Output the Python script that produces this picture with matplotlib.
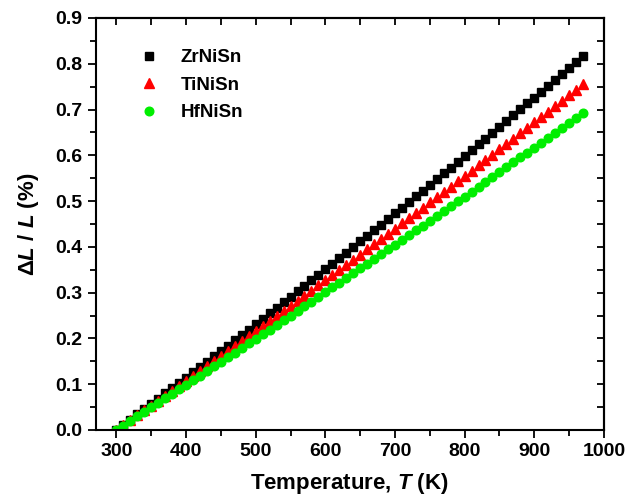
import numpy as np
import matplotlib.pyplot as plt

# --- Dados de dilatacao termica (Delta L / L, %) ---
temperature = np.arange(300, 980, 10)  # K

zrnisn = [
    0.0000, 0.0113, 0.0227, 0.0340, 0.0454, 0.0568, 0.0683, 0.0798, 0.0913, 0.1028,
    0.1143, 0.1259, 0.1375, 0.1492, 0.1608, 0.1725, 0.1842, 0.1960, 0.2077, 0.2195,
    0.2314, 0.2432, 0.2551, 0.2670, 0.2789, 0.2909, 0.3029, 0.3149, 0.3269, 0.3390,
    0.3511, 0.3632, 0.3753, 0.3875, 0.3997, 0.4119, 0.4242, 0.4364, 0.4488, 0.4611,
    0.4734, 0.4858, 0.4982, 0.5107, 0.5231, 0.5356, 0.5482, 0.5607, 0.5733, 0.5859,
    0.5985, 0.6112, 0.6238, 0.6365, 0.6493, 0.6620, 0.6748, 0.6876, 0.7005, 0.7134,
    0.7262, 0.7392, 0.7521, 0.7651, 0.7781, 0.7911, 0.8042, 0.8173,
]

tinisn = [
    0.0000, 0.0106, 0.0212, 0.0319, 0.0426, 0.0533, 0.0640, 0.0747, 0.0854, 0.0962,
    0.1070, 0.1178, 0.1286, 0.1395, 0.1504, 0.1613, 0.1722, 0.1831, 0.1940, 0.2050,
    0.2160, 0.2270, 0.2380, 0.2491, 0.2602, 0.2713, 0.2824, 0.2935, 0.3046, 0.3158,
    0.3270, 0.3382, 0.3494, 0.3607, 0.3720, 0.3833, 0.3946, 0.4059, 0.4172, 0.4286,
    0.4400, 0.4514, 0.4628, 0.4743, 0.4858, 0.4973, 0.5088, 0.5203, 0.5318, 0.5434,
    0.5550, 0.5666, 0.5782, 0.5899, 0.6016, 0.6133, 0.6250, 0.6367, 0.6484, 0.6602,
    0.6720, 0.6838, 0.6956, 0.7075, 0.7194, 0.7313, 0.7432, 0.7551,
]

hfnisn = [
    0.0000, 0.0098, 0.0196, 0.0295, 0.0393, 0.0492, 0.0591, 0.0690, 0.0789, 0.0888,
    0.0988, 0.1088, 0.1188, 0.1288, 0.1388, 0.1488, 0.1588, 0.1689, 0.1790, 0.1891,
    0.1992, 0.2093, 0.2195, 0.2296, 0.2398, 0.2500, 0.2602, 0.2704, 0.2807, 0.2909,
    0.3012, 0.3115, 0.3218, 0.3321, 0.3424, 0.3528, 0.3632, 0.3736, 0.3840, 0.3944,
    0.4048, 0.4152, 0.4257, 0.4362, 0.4467, 0.4572, 0.4677, 0.4783, 0.4888, 0.4994,
    0.5100, 0.5206, 0.5312, 0.5419, 0.5525, 0.5632, 0.5739, 0.5846, 0.5953, 0.6060,
    0.6168, 0.6276, 0.6384, 0.6492, 0.6600, 0.6708, 0.6816, 0.6925,
]

x_ticks = [300, 400, 500, 600, 700, 800, 900, 1000]
y_ticks = [0.0, 0.1, 0.2, 0.3, 0.4, 0.5, 0.6, 0.7, 0.8, 0.9]

# --- Estilo ---
plt.rcParams['font.family'] = 'Liberation Sans'
plt.rcParams['font.weight'] = 'bold'
plt.rcParams['mathtext.fontset'] = 'custom'
plt.rcParams['mathtext.rm'] = 'Liberation Sans:bold'
plt.rcParams['mathtext.it'] = 'Liberation Sans:italic:bold'
plt.rcParams['mathtext.bf'] = 'Liberation Sans:bold'
plt.rcParams['axes.linewidth'] = 1.5

fig = plt.figure(figsize=(6.29, 5.0), dpi=100)
ax = fig.add_axes([0.152, 0.14, 0.808, 0.824])

ax.plot(temperature, zrnisn, 's', color='black', ms=5.5, mec='black', label='ZrNiSn')
ax.plot(temperature, tinisn, '^', color='#ff0000', ms=7, mec='#ff0000', label='TiNiSn')
ax.plot(temperature, hfnisn, 'o', color='#00ee00', ms=6.2, mec='#00ee00', label='HfNiSn')

ax.set_xlim(270, 1000)
ax.set_ylim(0.0, 0.9)
ax.set_xticks(x_ticks)
ax.set_yticks(y_ticks)
ax.set_xticks(np.arange(350, 1000, 100), minor=True)
ax.set_yticks(np.arange(0.05, 0.9, 0.1), minor=True)
ax.set_yticklabels([f'{v:.1f}' for v in y_ticks])

ax.tick_params(which='both', direction='out', width=1.3, labelsize=14)
ax.tick_params(which='major', length=6)
ax.tick_params(which='minor', length=4)

# eixos espelhados (topo e direita) com ticks para dentro
top = ax.secondary_xaxis('top')
top.set_xticks(x_ticks)
top.set_xticks(np.arange(350, 1000, 100), minor=True)
top.tick_params(which='both', direction='in', length=5, width=1.3, labeltop=False)
right = ax.secondary_yaxis('right')
right.set_yticks(y_ticks)
right.set_yticks(np.arange(0.05, 0.9, 0.1), minor=True)
right.tick_params(which='both', direction='in', length=5, width=1.3, labelright=False)

ax.set_xlabel('Temperature, $T$ (K)', fontsize=16, fontweight='bold', labelpad=8)
ax.set_ylabel('Δ$L$ / $L$ (%)', fontsize=16, fontweight='bold', labelpad=10)

ax.legend(loc='upper left', bbox_to_anchor=(0.035, 0.965), frameon=False,
          fontsize=13.5, handletextpad=0.7, labelspacing=0.55, markerscale=1.0)

plt.savefig('out.png', dpi=100)
plt.close()
